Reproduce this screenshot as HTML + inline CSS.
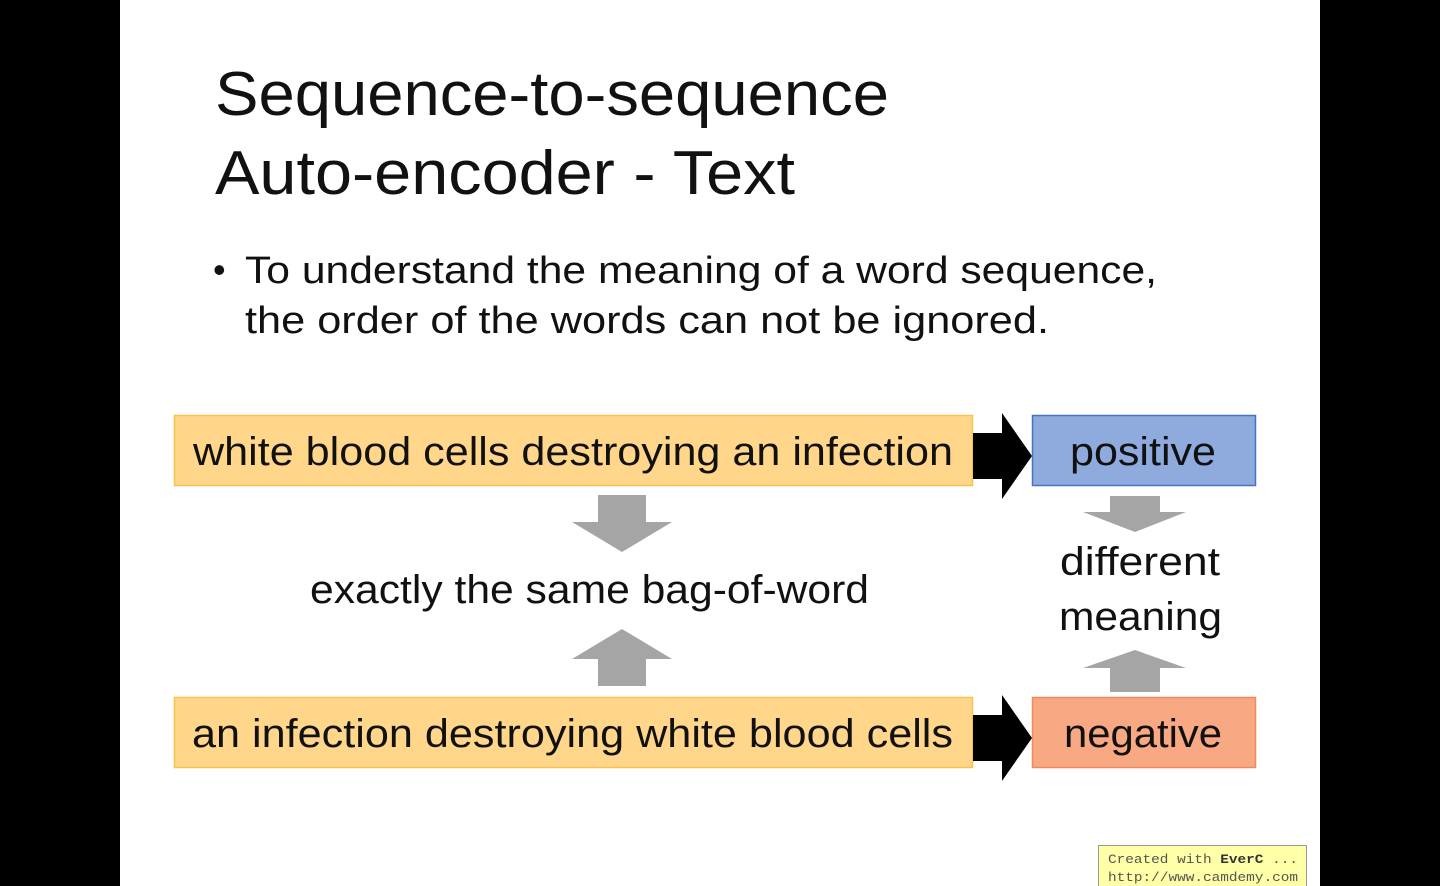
<!DOCTYPE html>
<html><head><meta charset="utf-8"><style>html,body{margin:0;padding:0;background:#000;}svg{display:block}</style></head>
<body>
<svg width="1440" height="886" viewBox="0 0 1440 886" xmlns="http://www.w3.org/2000/svg" font-family="Liberation Sans, sans-serif">
<rect x="0" y="0" width="1440" height="886" fill="#000"/>
<rect x="120" y="0" width="1200" height="886" fill="#fff"/>
<g fill="#111">
<text x="215" y="115" font-size="62" textLength="674" lengthAdjust="spacingAndGlyphs">Sequence-to-sequence</text>
<text x="215" y="194" font-size="62" textLength="580" lengthAdjust="spacingAndGlyphs">Auto-encoder - Text</text>
<text x="213" y="282" font-size="36">•</text>
<text x="245" y="283" font-size="38" textLength="912" lengthAdjust="spacingAndGlyphs">To understand the meaning of a word sequence,</text>
<text x="245" y="333" font-size="38" textLength="804" lengthAdjust="spacingAndGlyphs">the order of the words can not be ignored.</text>
</g>
<rect x="174.5" y="415.5" width="798" height="70" fill="#ffd68a" stroke="#f7c34a" stroke-width="1.5"/>
<rect x="174.5" y="697.5" width="798" height="70" fill="#ffd68a" stroke="#f7c34a" stroke-width="1.5"/>
<rect x="1032.5" y="415.5" width="223" height="70" fill="#8faadc" stroke="#4472c4" stroke-width="1.5"/>
<rect x="1032.5" y="697.5" width="223" height="70" fill="#f8a882" stroke="#ee8a5c" stroke-width="1.5"/>
<polygon points="973,433 1002,433 1002,413 1032,456 1002,499 1002,479 973,479" fill="#000"/>
<polygon points="973,715 1002,715 1002,695 1032,738 1002,781 1002,761 973,761" fill="#000"/>
<g fill="#a5a5a5">
<polygon points="598,495 646,495 646,522 672,522 622,552 572,522 598,522"/>
<polygon points="598,686 646,686 646,659 672,659 622,629 572,659 598,659"/>
<polygon points="1110,496 1160,496 1160,512 1186,512 1135,532 1083,512 1110,512"/>
<polygon points="1110,692 1160,692 1160,668 1186,668 1135,650 1083,668 1110,668"/>
</g>
<g fill="#111" font-size="40">
<text x="193" y="465" textLength="760" lengthAdjust="spacingAndGlyphs">white blood cells destroying an infection</text>
<text x="192" y="747" textLength="761" lengthAdjust="spacingAndGlyphs">an infection destroying white blood cells</text>
<text x="1070" y="465" textLength="146" lengthAdjust="spacingAndGlyphs">positive</text>
<text x="1064" y="747" textLength="158" lengthAdjust="spacingAndGlyphs">negative</text>
<text x="310" y="603" textLength="559" lengthAdjust="spacingAndGlyphs">exactly the same bag-of-word</text>
<text x="1060" y="575" textLength="160" lengthAdjust="spacingAndGlyphs">different</text>
<text x="1059" y="630" textLength="163" lengthAdjust="spacingAndGlyphs">meaning</text>
</g>
<rect x="1098.5" y="845.5" width="208" height="42" fill="#ffffa8" stroke="#999"/>
<g font-family="Liberation Mono, monospace" font-size="13" fill="#555">
<text x="1108" y="863" textLength="190" lengthAdjust="spacingAndGlyphs">Created with <tspan font-weight="bold" fill="#333">EverC</tspan> ...</text>
<text x="1108" y="881" textLength="190" lengthAdjust="spacingAndGlyphs">http://www.camdemy.com</text>
</g>
</svg>
</body></html>
